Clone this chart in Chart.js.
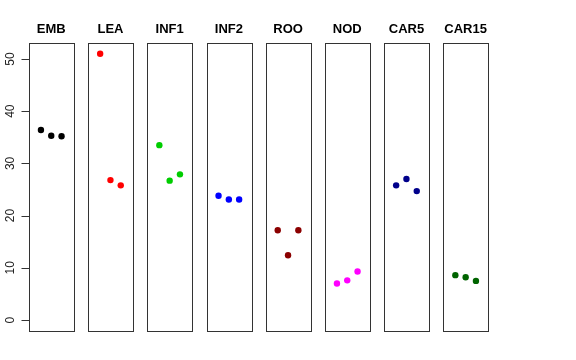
<!DOCTYPE html>
<html>
<head>
<meta charset="utf-8">
<script src="https://cdn.jsdelivr.net/npm/chart.js@4"></script>
<style>
  body { margin: 0; background: #fff; }
  #wrap { position: relative; width: 576px; height: 360px; overflow: hidden; }
  #wrap canvas { position: absolute; top: 0; }
</style>
</head>
<body>
<div id="wrap"></div>
<script>
// panel names and 3 replicate values each
const categories = ["EMB", "LEA", "INF1", "INF2", "ROO", "NOD", "CAR5", "CAR15"];
const reps = [1, 2, 3];
const EMB = [36.4, 35.3, 35.2];
const LEA = [51.0, 26.8, 25.8];
const INF1 = [33.5, 26.7, 27.9];
const INF2 = [23.8, 23.1, 23.1];
const ROO = [17.2, 12.4, 17.2];
const NOD = [7.0, 7.6, 9.3];
const CAR5 = [25.8, 27.0, 24.7];
const CAR15 = [8.6, 8.2, 7.5];
const seriesValues = [EMB, LEA, INF1, INF2, ROO, NOD, CAR5, CAR15];
const colors = ["#000000", "#FF0000", "#00CD00", "#0000FF", "#8B0000", "#FF00FF", "#00008B", "#006400"];
const yTicks = [0, 10, 20, 30, 40, 50];

// R style: ylim c(0,51), xlim c(0,4), each padded 4%
const yMin = -2.04, yMax = 53.04;
const xMin = -0.16, xMax = 4.16;

const panelW = 44.5;
const firstLeft = 29;
const gap = 59.2;
const H = 360;

// box around each panel
const framePlugin = {
    id: "frame",
    afterDatasetsDraw(chart) {
        const a = chart.chartArea;
        const ctx = chart.ctx;
        ctx.save();
        ctx.strokeStyle = "#333";
        ctx.lineWidth = 1;
        ctx.strokeRect(Math.round(a.left) + 0.5, Math.round(a.top) + 0.5,
            Math.round(a.right - a.left), Math.round(a.bottom - a.top));
        ctx.restore();
    }
};

// left y axis, R style with rotated labels
const axisPlugin = {
    id: "raxis",
    afterDraw(chart) {
        const y = chart.scales.y;
        const ctx = chart.ctx;
        const x0 = Math.round(chart.chartArea.left) + 0.5;
        ctx.save();
        ctx.strokeStyle = "#333";
        ctx.fillStyle = "#222";
        ctx.lineWidth = 1;
        ctx.beginPath();
        ctx.moveTo(x0, Math.round(y.getPixelForValue(yTicks[0])) + 0.5);
        ctx.lineTo(x0, Math.round(y.getPixelForValue(yTicks[yTicks.length - 1])) + 0.5);
        yTicks.forEach(t => {
            const py = Math.round(y.getPixelForValue(t)) + 0.5;
            ctx.moveTo(x0, py);
            ctx.lineTo(x0 - 8, py);
        });
        ctx.stroke();
        ctx.font = "12px 'Liberation Sans', Arial, sans-serif";
        ctx.textAlign = "center";
        ctx.textBaseline = "middle";
        yTicks.forEach(t => {
            const py = y.getPixelForValue(t);
            ctx.save();
            ctx.translate(10.5, py);
            ctx.rotate(-Math.PI / 2);
            ctx.fillText(String(t), 0, 0);
            ctx.restore();
        });
        ctx.restore();
    }
};

const wrap = document.getElementById("wrap");

categories.forEach((cat, i) => {
    const L = firstLeft + i * gap;
    const canvasLeft = i === 0 ? 0 : Math.floor(L) - 8;
    const canvasW = i === 0 ? 82 : 61;
    const padLeft = L - canvasLeft;
    const padRight = canvasW - padLeft - panelW;

    const canvas = document.createElement("canvas");
    canvas.width = canvasW;
    canvas.height = H;
    canvas.style.left = canvasLeft + "px";
    canvas.style.width = canvasW + "px";
    canvas.style.height = H + "px";
    wrap.appendChild(canvas);

    new Chart(canvas.getContext("2d"), {
        type: "scatter",
        data: {
            datasets: [{
                label: cat,
                data: reps.map((r, k) => ({ x: r, y: seriesValues[i][k] })),
                backgroundColor: colors[i],
                borderWidth: 0,
                pointRadius: 3.2
            }]
        },
        options: {
            responsive: false,
            animation: false,
            devicePixelRatio: 1,
            layout: { padding: { left: padLeft, right: padRight, top: 0, bottom: 29.3 } },
            plugins: {
                legend: { display: false },
                tooltip: { enabled: false },
                title: {
                    display: true,
                    text: cat,
                    color: "#000",
                    font: { family: "'Liberation Sans', Arial, sans-serif", weight: "bold", size: 13, lineHeight: 1.2 },
                    padding: { top: 21.5, bottom: 6 }
                }
            },
            scales: {
                x: { type: "linear", min: xMin, max: xMax, display: false },
                y: { type: "linear", min: yMin, max: yMax, display: false }
            }
        },
        plugins: i === 0 ? [framePlugin, axisPlugin] : [framePlugin]
    });
});
</script>
</body>
</html>
